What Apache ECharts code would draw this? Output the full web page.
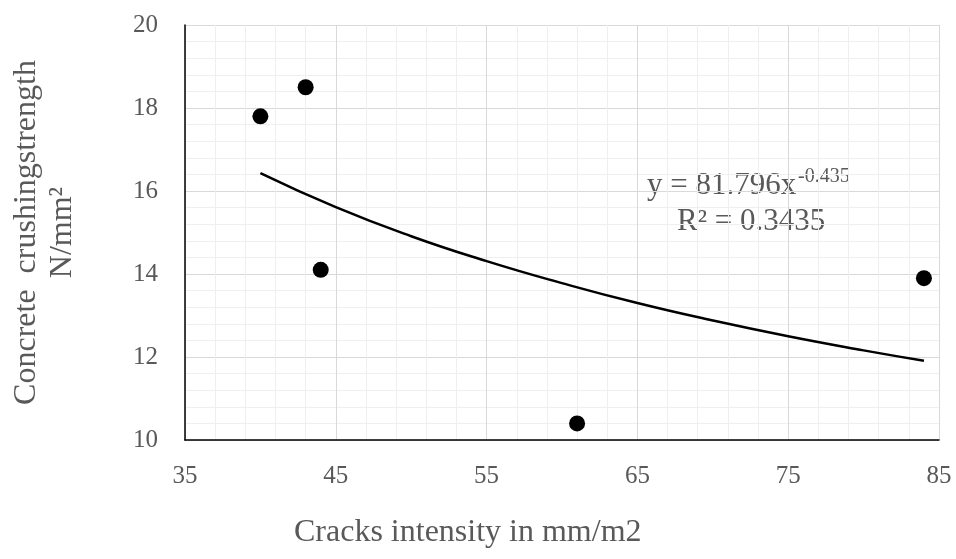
<!DOCTYPE html>
<html>
<head>
<meta charset="utf-8">
<script src="https://cdn.jsdelivr.net/npm/echarts@6/dist/echarts.min.js"></script>
<style>
html,body{margin:0;padding:0;background:#fff;}
#crackChart{width:956px;height:559px;}
</style>
</head>
<body>
<div id="crackChart"></div>
<script>
// measured points
var crackX = [40, 43, 44, 61, 84];
var strengthY = [17.8, 18.5, 14.1, 10.4, 13.9];
// power trendline
var trendX = [40, 45, 50, 55, 60, 65, 70, 75, 80, 84];
var trendY = [16.43, 15.61, 14.91, 14.31, 13.78, 13.30, 12.88, 12.50, 12.16, 11.91];
var xTicks = [35, 45, 55, 65, 75, 85];
var yTicks = [10, 12, 14, 16, 18, 20];

var font = '"Liberation Serif", "Times New Roman", serif';
var grey = '#595959';

var myChart = echarts.init(document.getElementById('crackChart'));

var points = [];
for (var i = 0; i < crackX.length; i++) {
	points.push([crackX[i], strengthY[i]]);
}
var trend = [];
for (var j = 0; j < trendX.length; j++) {
	trend.push([trendX[j], trendY[j]]);
}

var option = {
	animation: false,
	backgroundColor: '#fff',
	grid: {
		left: 185,
		right: 17,
		top: 25,
		bottom: 119,
		containLabel: false,
		outerBoundsMode: 'none'
	},
	xAxis: {
		type: 'value',
		min: xTicks[0],
		max: xTicks[xTicks.length - 1],
		interval: xTicks[1] - xTicks[0],
		axisLine: { show: true, onZero: false, lineStyle: { color: '#000', width: 1.5 } },
		axisTick: { show: false },
		axisLabel: { color: grey, fontFamily: font, fontSize: 25, margin: 24 },
		splitLine: { show: true, lineStyle: { color: '#d9d9d9', width: 1 } },
		minorTick: { show: false, splitNumber: 5 },
		minorSplitLine: { show: true, lineStyle: { color: '#efefef', width: 1 } }
	},
	yAxis: {
		type: 'value',
		min: yTicks[0],
		max: yTicks[yTicks.length - 1],
		interval: yTicks[1] - yTicks[0],
		name: 'Concrete  crushingstrength\nN/mm²',
		nameLocation: 'middle',
		nameRotate: 90,
		nameGap: 104,
		nameTextStyle: { color: grey, fontFamily: font, fontSize: 32, lineHeight: 36 },
		axisLine: { show: true, onZero: false, lineStyle: { color: '#000', width: 1.5 } },
		axisTick: { show: false },
		axisLabel: { color: grey, fontFamily: font, fontSize: 25, margin: 27 },
		splitLine: { show: true, lineStyle: { color: '#d9d9d9', width: 1 } },
		minorTick: { show: false, splitNumber: 5 },
		minorSplitLine: { show: true, lineStyle: { color: '#efefef', width: 1 } }
	},
	graphic: [
		{
			type: 'text',
			x: 294,
			y: 533,
			style: { text: 'Cracks intensity in mm/m2', fill: grey, font: '32px ' + font, textVerticalAlign: 'middle' }
		},
		{
			type: 'text',
			x: 647,
			y: 186,
			style: { text: 'y = 81.796x', fill: grey, font: '31px ' + font, textVerticalAlign: 'middle' }
		},
		{
			type: 'text',
			x: 798,
			y: 177,
			style: { text: '-0.435', fill: grey, font: '20px ' + font, textVerticalAlign: 'middle' }
		},
		{
			type: 'text',
			x: 677,
			y: 222,
			style: { text: 'R² = 0.3435', fill: grey, font: '31px ' + font, textVerticalAlign: 'middle' }
		}
	],
	series: [
		{
			name: 'trend',
			type: 'line',
			smooth: true,
			symbol: 'none',
			data: trend,
			lineStyle: { color: '#000', width: 2.5 },
			z: 3
		},
		{
			name: 'strength',
			type: 'scatter',
			symbolSize: 16,
			itemStyle: { color: '#000', opacity: 1 },
			data: points,
			z: 4
		}
	]
};
myChart.setOption(option);
</script>
</body>
</html>
